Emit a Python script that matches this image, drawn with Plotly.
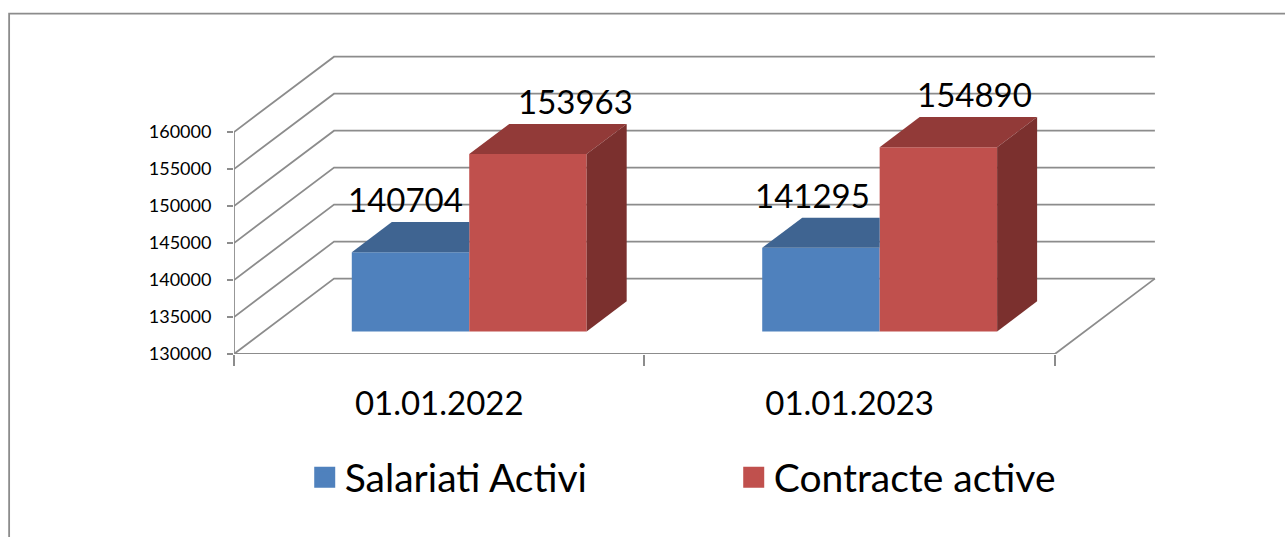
import plotly.graph_objects as go

# --- data ---
categories = ["01.01.2022", "01.01.2023"]
salariati = [140704, 141295]
contracte = [153963, 154890]
series_names = ["Salariati Activi", "Contracte active"]
y_ticks = [130000, 135000, 140000, 145000, 150000, 155000, 160000]
y_tick_labels = ["130000", "135000", "140000", "145000", "150000", "155000", "160000"]

# --- style / geometry ---
W, H = 1285, 537
L, R, T, B = 234.3, 1157.0, 40.0, 354.5
PX_X = 410.3       # px per category
PX_Y = 37.05 / 5000  # px per value unit
DX = 100 / PX_X    # floor depth in x units
DY = 75.5 / PX_Y   # floor depth in value units
BAR_W = 117.4 / PX_X
YMIN = y_ticks[0]
YMAX = YMIN + (B - T) / PX_Y
XMAX = (R - L) / PX_X
GRID = "#8c8c8c"
LW = 1.8
FONT = "Lato"
BLUE, BLUE_TOP = "#4F81BD", "#3F6491"
RED, RED_TOP, RED_SIDE = "#C0504D", "#923A38", "#7B302E"
LABEL_NUDGE = {"s": [-5, -8], "c": [48, 36]}

fig = go.Figure()


def front_x(i, side):
    return i + 0.5 + 0.3 * DX + side * BAR_W / 2


# front faces
for vals, name, col, side in [(salariati, series_names[0], BLUE, -1),
                              (contracte, series_names[1], RED, 1)]:
    fig.add_trace(go.Bar(
        x=[front_x(i, side) for i in range(len(vals))],
        y=[v - YMIN for v in vals],
        base=[YMIN + 0.3 * DY] * len(vals),
        width=BAR_W, marker=dict(color=col, line=dict(width=0)),
        name=name, showlegend=False, hoverinfo="skip"))


def poly(xs, ys, col):
    fig.add_trace(go.Scatter(x=xs + xs[:1], y=ys + ys[:1], mode="lines", fill="toself",
                             fillcolor=col, line=dict(width=0), showlegend=False,
                             hoverinfo="skip"))


d0, d1 = 0.3, 0.7
for i in range(len(categories)):
    # blue top, cut where the red front begins
    v = salariati[i]
    x0, x1 = front_x(i, -1) - BAR_W / 2, front_x(i, -1) + BAR_W / 2
    poly([x0, x0 + 0.4 * DX, x1, x1],
         [v + d0 * DY, v + d1 * DY, v + d1 * DY, v + d0 * DY], BLUE_TOP)
    # red top and side
    v = contracte[i]
    x0, x1 = front_x(i, 1) - BAR_W / 2, front_x(i, 1) + BAR_W / 2
    poly([x0, x0 + 0.4 * DX, x1 + 0.4 * DX, x1],
         [v + d0 * DY, v + d1 * DY, v + d1 * DY, v + d0 * DY], RED_TOP)
    poly([x1, x1 + 0.4 * DX, x1 + 0.4 * DX, x1],
         [v + d0 * DY, v + d1 * DY, YMIN + d1 * DY, YMIN + d0 * DY], RED_SIDE)

# legend proxies
for name, col in zip(series_names, [BLUE, RED]):
    fig.add_trace(go.Scatter(x=[None], y=[None], mode="markers", name=name,
                             marker=dict(symbol="square", size=16, color=col,
                                         line=dict(color=col, width=5))))

# walls and floor
shapes = []
line = dict(color=GRID, width=LW)
n = len(categories)
for v in y_ticks:
    shapes.append(dict(type="path", layer="below", xref="x", yref="y", line=line,
                       path=f"M0,{v} L{DX},{v + DY} L{n + DX},{v + DY}"))
shapes.append(dict(type="path", layer="below", xref="x", yref="y", line=line,
                   path=f"M0,{y_ticks[-1]} L0,{YMIN} L{n},{YMIN} L{n + DX},{YMIN + DY}"))


def px(x):
    return (x - L) / (R - L)


def py(y):
    return (B - y) / (B - T)


# outer chart border (left and top edges are visible in the frame)
shapes.append(dict(type="path", xref="paper", yref="paper", line=line,
                   path=f"M{px(9.5)},{py(545)} L{px(9.5)},{py(13.5)} L{px(1290)},{py(13.5)}"))

# data labels
ann = []
for key, vals, side in [("s", salariati, -1), ("c", contracte, 1)]:
    for i, v in enumerate(vals):
        ann.append(dict(x=front_x(i, side), y=v + d0 * DY, text=str(v), showarrow=False,
                        xanchor="center", yanchor="middle", xshift=LABEL_NUDGE[key][i], yshift=53,
                        font=dict(family=FONT, size=33, color="#000")))

fig.update_layout(
    width=W, height=H, autosize=False,
    margin=dict(l=L, r=W - R, t=T, b=H - B, pad=0),
    paper_bgcolor="white", plot_bgcolor="white",
    barmode="overlay", shapes=shapes, annotations=ann,
    font=dict(family=FONT, color="#000"),
    legend=dict(orientation="h", x=px(305), xanchor="left", y=py(478), yanchor="middle",
                font=dict(family=FONT, size=39), itemwidth=30, bgcolor="rgba(0,0,0,0)",
                entrywidth=384, entrywidthmode="pixels"),
    xaxis=dict(range=[0, XMAX], tickmode="array", tickvals=[0.5, 1.5], ticktext=categories,
               ticks="", showgrid=False, zeroline=False, showline=False,
               tickfont=dict(family=FONT, size=33), ticklabelstandoff=27,
               minor=dict(tickmode="array", tickvals=[0, 1, 2], ticks="outside", ticklen=11,
                          tickwidth=LW, tickcolor=GRID, showgrid=False)),
    yaxis=dict(range=[YMIN, YMAX], tickmode="array", tickvals=y_ticks, ticktext=y_tick_labels,
               ticks="outside", ticklen=6, tickwidth=LW, tickcolor=GRID, showgrid=False,
               zeroline=False, showline=False, tickfont=dict(family=FONT, size=18),
               ticklabelstandoff=12),
)

fig.write_html("out.html", config=dict(displayModeBar=False),
               post_script="document.body.style.margin='0';document.documentElement.style.overflow='hidden';")
